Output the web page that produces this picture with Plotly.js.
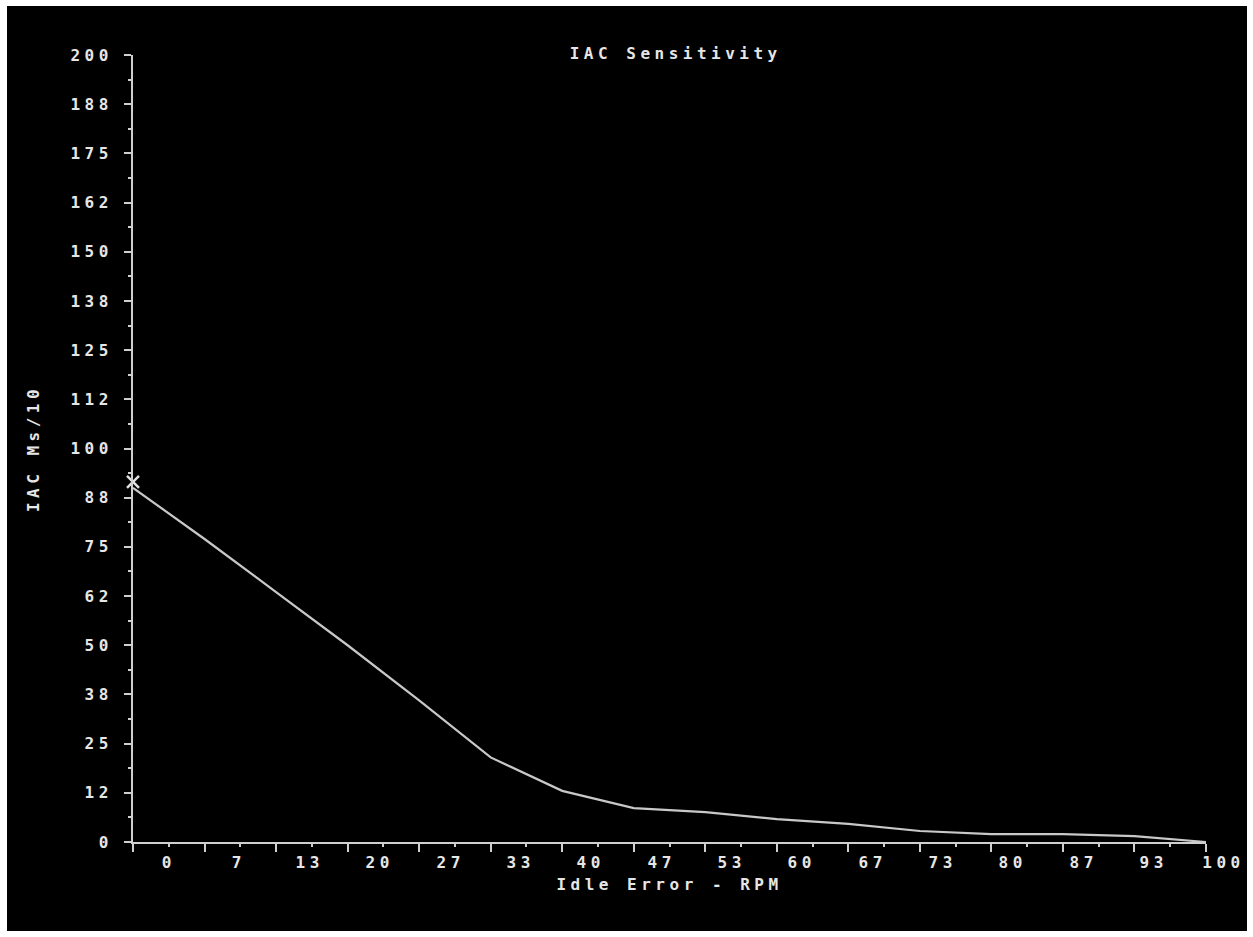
<!DOCTYPE html>
<html>
<head>
<meta charset="utf-8">
<script src="https://cdn.plot.ly/plotly-3.0.1.min.js"></script>
<style>
  html, body { margin: 0; padding: 0; background: #ffffff; }
  #chart { position: absolute; left: 7px; top: 6px; width: 1240px; height: 925px; background: #000; }
  #chart text { letter-spacing: 4.5px; }
</style>
</head>
<body>
<div id="chart"></div>
<script>
// ---- data ----
var xLabels = ['0','7','13','20','27','33','40','47','53','60','67','73','80','87','93','100'];
var iacValues = [90, 77, 63.5, 50, 36, 21.5, 13, 8.6, 7.6, 5.8, 4.6, 2.8, 2.0, 2.0, 1.5, 0];
var currentPoint = {x: 0, y: 91.5};
var yTickValues = [0,12.5,25,37.5,50,62.5,75,87.5,100,112.5,125,137.5,150,162.5,175,187.5,200];
var yTickLabels = ['0','12','25','38','50','62','75','88','100','112','125','138','150','162','175','188','200'];

var step = 100 / (xLabels.length - 1);
var xValues = iacValues.map(function(_, i){ return i * step; });

var fontFam = '"DejaVu Sans Mono", "Liberation Mono", monospace';
var txtColor = '#e6e6e6';
var axColor = '#cfcfcf';
var fnt = {family: fontFam, size: 16, color: txtColor, weight: 'bold'};

var traces = [
  {
    x: xValues, y: iacValues, type: 'scatter', mode: 'lines',
    line: {color: '#c8c8c8', width: 2.2}, hoverinfo: 'skip', cliponaxis: false
  },
  {
    x: [currentPoint.x], y: [currentPoint.y], type: 'scatter', mode: 'markers',
    marker: {symbol: 'x-thin-open', size: 12, color: '#e0e0e0', line: {color: '#e0e0e0', width: 2.5}},
    cliponaxis: false, hoverinfo: 'skip'
  }
];

// x tick labels as annotations (offset from tick marks as in reference)
var plotW = 1073;
var annotations = xLabels.map(function(t, i){
  return {
    xref: 'paper', yref: 'paper', x: (36 + 70.33 * i) / plotW, y: 0,
    yshift: -20, xanchor: 'center', yanchor: 'middle', showarrow: false,
    text: t, font: fnt
  };
});

var layout = {
  width: 1240, height: 925,
  paper_bgcolor: '#000000', plot_bgcolor: '#000000',
  margin: {l: 126, r: 41, t: 49, b: 89},
  showlegend: false,
  font: fnt,
  title: {
    text: 'IAC Sensitivity', x: 0.5393, xanchor: 'center', y: 0.949, yanchor: 'middle',
    font: fnt
  },
  xaxis: {
    range: [0, 100], dtick: step, tick0: 0, tickmode: 'linear',
    showgrid: false, zeroline: false, showline: true, linecolor: axColor, linewidth: 2,
    ticks: 'outside', ticklen: 8, tickwidth: 2, tickcolor: axColor,
    minor: {dtick: step / 2, tick0: 0, ticks: 'outside', ticklen: 3, tickwidth: 2, tickcolor: axColor},
    showticklabels: false, fixedrange: true,
    title: {text: 'Idle Error - RPM', standoff: 28, font: fnt}
  },
  yaxis: {
    range: [0, 200], tickmode: 'array', tickvals: yTickValues, ticktext: yTickLabels,
    showgrid: false, zeroline: false, showline: true, linecolor: axColor, linewidth: 2,
    ticks: 'outside', ticklen: 7, tickwidth: 2, tickcolor: axColor,
    minor: {tickmode: 'linear', dtick: 6.25, tick0: 0, ticks: 'outside', ticklen: 3, tickwidth: 2, tickcolor: axColor},
    ticklabelstandoff: 8,
    tickfont: fnt,
    fixedrange: true,
    title: {text: 'IAC Ms/10', standoff: 40, font: fnt}
  },
  annotations: annotations
};

Plotly.newPlot('chart', traces, layout, {displayModeBar: false, staticPlot: true});
</script>
</body>
</html>
